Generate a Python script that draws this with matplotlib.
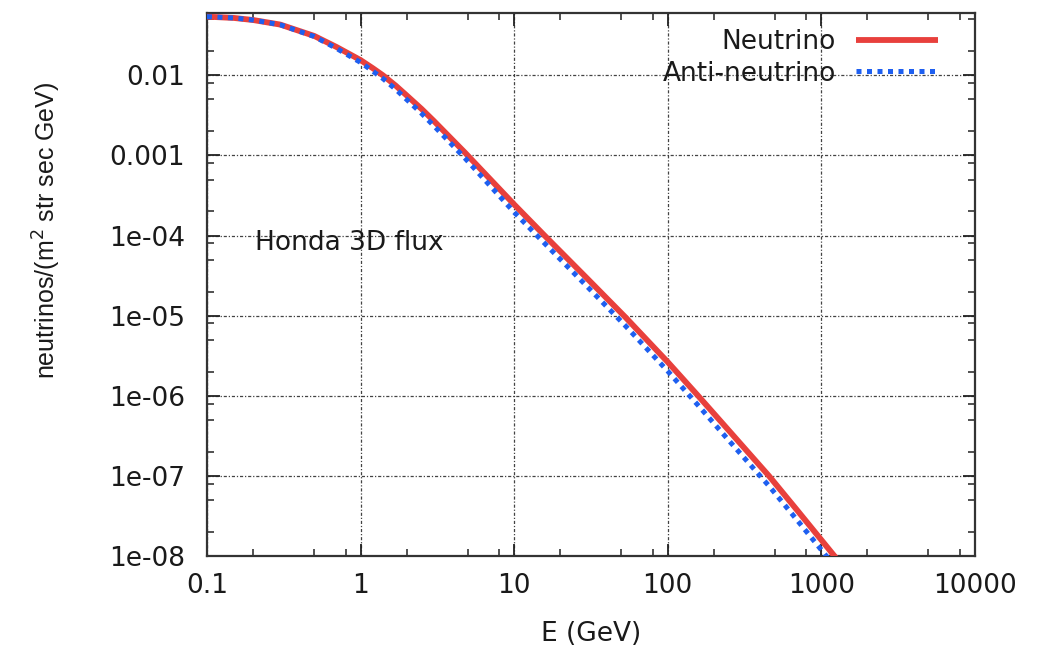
import numpy as np
import matplotlib
matplotlib.use('Agg')
import matplotlib.pyplot as plt
from matplotlib.ticker import LogLocator, NullFormatter, FixedLocator

# energy grid (GeV) and atmospheric flux, neutrinos/(m^2 str sec GeV)
energy = [0.1, 0.15, 0.2, 0.3, 0.5, 0.7, 1.0, 1.2, 1.4, 1.7, 2.0, 2.5, 3.0,
          4.8, 10.0, 15.8, 30.0, 53.0, 100.0, 158.0, 250.0, 457.0, 700.0,
          1220.0, 2000.0]
flux_nu = [0.054, 0.052, 0.049, 0.043, 0.031, 0.0225, 0.0155, 0.0123, 0.0100,
           0.0074, 0.0056, 0.0038, 0.0027, 0.00108, 2.45e-4, 1.0e-4, 2.9e-5,
           9.6e-6, 2.65e-6, 1.0e-6, 3.7e-7, 1.0e-7, 3.7e-8, 1.0e-8, 3.1e-9]
flux_nubar = [0.054, 0.052, 0.049, 0.0428, 0.0305, 0.0216, 0.0145, 0.0113,
              0.0091, 0.00666, 0.00498, 0.00334, 0.00235, 9.2e-4, 1.96e-4,
              8.0e-5, 2.3e-5, 7.5e-6, 2.04e-6, 7.6e-7, 2.78e-7, 7.5e-8,
              2.78e-8, 7.5e-9, 2.3e-9]

xticks = [0.1, 1, 10, 100, 1000, 10000]
xticklabels = ['0.1', '1', '10', '100', '1000', '10000']
yticks = [1e-8, 1e-7, 1e-6, 1e-5, 1e-4, 1e-3, 1e-2]
yticklabels = ['1e-08', '1e-07', '1e-06', '1e-05', '1e-04', '0.001', '0.01']

plt.rcParams['font.family'] = ['DejaVu Sans']
txt = '#1a1a1a'
fs = 19

fig = plt.figure(figsize=(10.56, 6.49), dpi=100)
ax = fig.add_axes([0.196, 0.1433, 0.727, 0.8367])

ax.plot(energy, flux_nu, color='#e8403c', lw=4.2, solid_capstyle='butt',
        label='Neutrino', zorder=3)
ax.plot(energy, flux_nubar, color='#1e5ff0', lw=3.6, ls=(0, (1, 1.1)),
        label='Anti-neutrino', zorder=4)

ax.set_xscale('log')
ax.set_yscale('log')
ax.set_xlim(0.1, 10000)
ax.set_ylim(1e-8, 0.06)

ax.xaxis.set_major_locator(FixedLocator(xticks))
ax.set_xticklabels(xticklabels)
ax.yaxis.set_major_locator(FixedLocator(yticks))
ax.set_yticklabels(yticklabels)
ax.xaxis.set_minor_locator(LogLocator(base=10, subs=[2, 5, 8]))
ax.yaxis.set_minor_locator(LogLocator(base=10, subs=[2, 5, 8]))
ax.xaxis.set_minor_formatter(NullFormatter())
ax.yaxis.set_minor_formatter(NullFormatter())

ax.tick_params(which='both', direction='in', top=True, right=True,
               color='#222222', labelcolor=txt, labelsize=fs)
ax.tick_params(which='major', length=9, width=1.3)
ax.tick_params(which='minor', length=5, width=1.1)
ax.tick_params(axis='x', pad=12)
ax.tick_params(axis='y', pad=16)

for s in ax.spines.values():
    s.set_linewidth(1.6)
    s.set_color('#333333')

ax.grid(True, which='major', color='#222222', ls=(0, (2.5, 1.5, 1, 1.5)),
        lw=0.9, alpha=0.85)

ax.set_xlabel('E (GeV)', fontsize=fs, color=txt, labelpad=16)
ax.set_ylabel(r'neutrinos/(m$^2$ str sec GeV)', fontsize=18, color=txt,
              family=['Liberation Sans', 'DejaVu Sans'])
ax.yaxis.set_label_coords(-0.188, 0.60)

ax.text(0.0625, 0.576, 'Honda 3D flux', transform=ax.transAxes,
        fontsize=fs, color=txt, va='center', ha='left')

leg = ax.legend(loc='upper right', bbox_to_anchor=(0.952, 0.97),
                frameon=False, markerfirst=False, fontsize=fs,
                handlelength=3.1, handletextpad=0.75, labelspacing=0.2,
                borderpad=0, borderaxespad=0)
for t in leg.get_texts():
    t.set_color(txt)

fig.savefig('out.png', dpi=100)
